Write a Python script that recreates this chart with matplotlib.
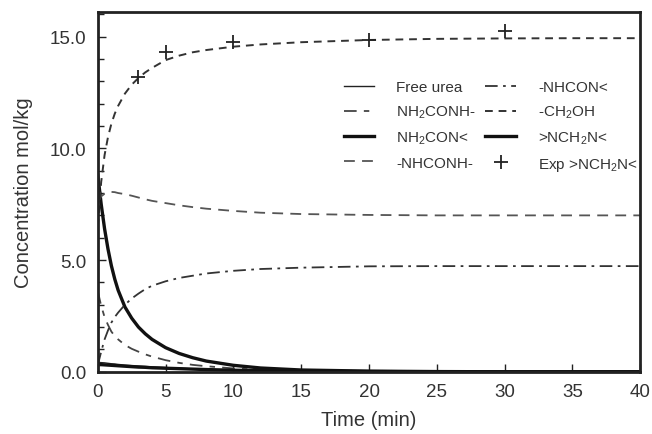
import matplotlib
matplotlib.use("Agg")
import matplotlib.pyplot as plt
from matplotlib.ticker import MultipleLocator, FormatStrFormatter

plt.rcParams['font.family'] = ['Liberation Sans', 'DejaVu Sans']
plt.rcParams['mathtext.fontset'] = 'custom'
plt.rcParams['mathtext.rm'] = 'Liberation Sans'
plt.rcParams['mathtext.it'] = 'Liberation Sans'

# time points (min)
t = [0, 0.25, 0.5, 0.75, 1, 1.25, 1.5, 2, 2.5, 3, 3.5, 4, 5, 6, 7, 8, 10, 12, 15, 20, 25, 30, 35, 40]

free_urea = [0.42, 0.41, 0.40, 0.38, 0.36, 0.35, 0.33, 0.30, 0.28, 0.26, 0.24, 0.22, 0.19, 0.16, 0.13, 0.11,
             0.07, 0.05, 0.03, 0.01, 0.0, 0.0, 0.0, 0.0]
nh2conh = [3.6, 2.95, 2.45, 2.1, 1.8, 1.6, 1.45, 1.2, 1.03, 0.9, 0.78, 0.68, 0.52, 0.40, 0.31, 0.25,
           0.15, 0.09, 0.05, 0.02, 0.01, 0.0, 0.0, 0.0]
nh2con = [8.8, 7.5, 6.4, 5.5, 4.75, 4.15, 3.65, 2.9, 2.4, 2.0, 1.7, 1.45, 1.08, 0.82, 0.63, 0.48,
          0.29, 0.17, 0.08, 0.03, 0.01, 0.0, 0.0, 0.0]
nhconh = [7.6, 7.85, 7.97, 8.02, 8.05, 8.04, 8.0, 7.95, 7.88, 7.8, 7.72, 7.65, 7.55, 7.45, 7.37, 7.3,
          7.2, 7.12, 7.06, 7.02, 7.0, 7.0, 7.0, 7.0]
nhcon = [0.3, 0.9, 1.45, 1.85, 2.2, 2.45, 2.65, 3.0, 3.28, 3.5, 3.7, 3.85, 4.05, 4.2, 4.3, 4.4,
         4.52, 4.6, 4.66, 4.72, 4.73, 4.73, 4.73, 4.73]
ch2oh = [6.5, 8.5, 9.7, 10.5, 11.1, 11.55, 11.9, 12.45, 12.85, 13.15, 13.4, 13.6, 13.95, 14.15, 14.3, 14.4,
         14.55, 14.65, 14.75, 14.85, 14.9, 14.92, 14.93, 14.93]
nch2n = [0.32, 0.32, 0.31, 0.30, 0.29, 0.28, 0.27, 0.25, 0.23, 0.21, 0.20, 0.18, 0.16, 0.14, 0.12, 0.10,
         0.07, 0.05, 0.03, 0.01, 0.0, 0.0, 0.0, 0.0]

exp_t = [3, 5, 10, 20, 30]
exp_nch2n = [13.2, 14.3, 14.75, 14.85, 15.25]

fig = plt.figure(figsize=(6.52, 4.35), dpi=100)
ax = fig.add_axes([0.150, 0.143, 0.832, 0.827])

dark = '#222222'
ax.plot(t, free_urea, color=dark, lw=1.0, label='Free urea')
ax.plot(t, nh2conh, color='#444444', lw=1.3, dashes=(7, 4, 3, 4), label='NH$_2$CONH-')
ax.plot(t, nh2con, color='#111111', lw=2.4, label='NH$_2$CON<')
ax.plot(t, nhconh, color='#555555', lw=1.3, dashes=(6, 4), label='-NHCONH-')
ax.plot(t, nhcon, color='#333333', lw=1.3, dashes=(7, 3, 1.5, 3), label='-NHCON<')
ax.plot(t, ch2oh, color='#333333', lw=1.4, dashes=(4, 3), label='-CH$_2$OH')
ax.plot(t, nch2n, color='#111111', lw=2.4, label='>NCH$_2$N<')
ax.plot(exp_t, exp_nch2n, ls='none', marker='+', ms=10, mew=1.3, color=dark, label='Exp >NCH$_2$N<')

ax.set_xlim(0, 40)
ax.set_ylim(0, 16.1)
ax.xaxis.set_major_locator(MultipleLocator(5))
ax.yaxis.set_major_locator(MultipleLocator(5))
ax.yaxis.set_minor_locator(MultipleLocator(1))
ax.yaxis.set_major_formatter(FormatStrFormatter('%.1f'))
ax.tick_params(direction='in', which='both', labelsize=13.5, labelcolor='#333333', color=dark)
ax.tick_params(which='major', length=6, width=1)
ax.tick_params(which='minor', length=4, width=1)
ax.tick_params(axis='y', pad=8)
ax.tick_params(axis='x', pad=8)
for s in ax.spines.values():
    s.set_linewidth(2)
    s.set_color(dark)

ax.set_xlabel('Time (min)', fontsize=14.5, color='#333333', labelpad=7)
ax.set_ylabel('Concentration mol/kg', fontsize=14.5, color='#333333', labelpad=12)

handles, labels = ax.get_legend_handles_labels()
ax.legend(handles, labels, ncol=2, frameon=False, fontsize=11, loc='upper right',
          bbox_to_anchor=(0.996, 0.81), borderaxespad=0, borderpad=0,
          labelcolor='#333333', handlelength=2.0, columnspacing=0.6,
          labelspacing=0.62, handletextpad=1.45)

fig.savefig('out.png', dpi=100)
